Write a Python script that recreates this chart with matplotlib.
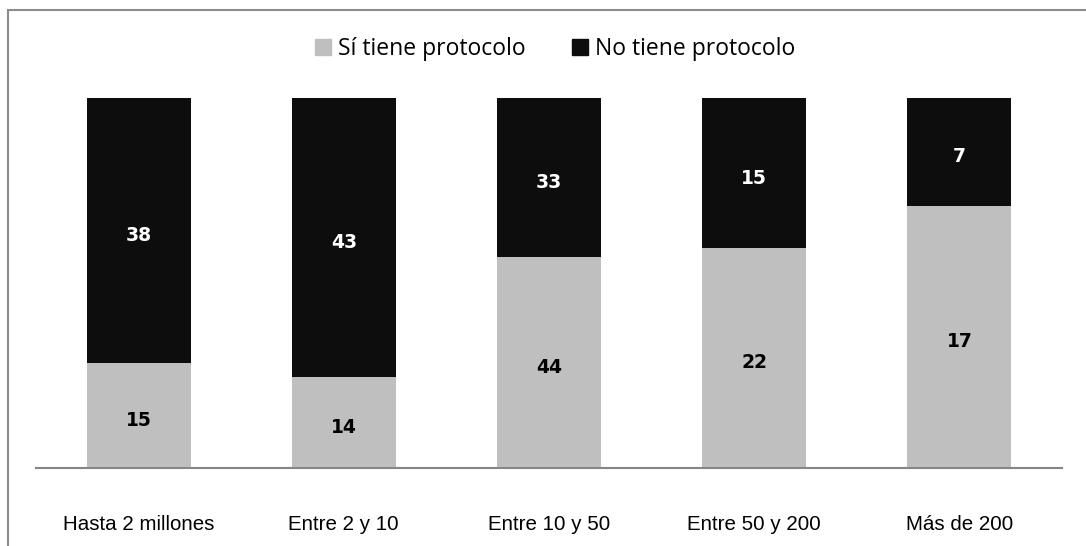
import matplotlib.pyplot as plt
from matplotlib.patches import Rectangle, Patch
import matplotlib.transforms as mtransforms
import numpy as np

# categorias y valores
categorias = ['Hasta 2 millones', 'Entre 2 y 10', 'Entre 10 y 50', 'Entre 50 y 200', 'Más de 200']
si_tiene = [15, 14, 44, 22, 17]
no_tiene = [38, 43, 33, 15, 7]

si = np.array(si_tiene, dtype=float)
no = np.array(no_tiene, dtype=float)
total = si + no
si_pct = si / total
no_pct = no / total

gris = '#bfbfbf'
negro = '#0d0d0d'

fig = plt.figure(figsize=(10.86, 5.46), dpi=100)
ax = fig.add_axes([36 / 1086, 78 / 546, 1026 / 1086, 370 / 546])

x = np.arange(len(categorias))
ax.bar(x, si_pct, width=0.507, color=gris)
ax.bar(x, no_pct, width=0.507, bottom=si_pct, color=negro)

# etiquetas un poco por debajo del centro, como en el original
desplaz = mtransforms.offset_copy(ax.transData, fig=fig, x=0, y=-5, units='dots')
for i in range(len(x)):
    ax.text(x[i], si_pct[i] / 2, str(si_tiene[i]), ha='center', va='center',
            fontsize=13.5, fontweight='bold', color='black', family='DejaVu Sans',
            transform=desplaz)
    ax.text(x[i], si_pct[i] + no_pct[i] / 2, str(no_tiene[i]), ha='center', va='center',
            fontsize=13.5, fontweight='bold', color='white', family='DejaVu Sans',
            transform=desplaz)

ax.set_xlim(-0.5, len(x) - 0.5)
ax.set_ylim(0, 1)
ax.set_yticks([])
ax.set_xticks(x)
ax.set_xticklabels(categorias, fontsize=14.8, family='Liberation Sans')
ax.tick_params(axis='x', length=0, pad=34)
for s in ['top', 'right', 'left']:
    ax.spines[s].set_visible(False)
ax.spines['bottom'].set_color('#868686')
ax.spines['bottom'].set_linewidth(1.5)

# leyenda
handles = [Patch(color=gris, label='Sí tiene protocolo'),
           Patch(color=negro, label='No tiene protocolo')]
fig.legend(handles=handles, loc='center', bbox_to_anchor=(555 / 1086, 1 - 49 / 546),
           ncol=2, frameon=False, prop={'family': 'Open Sans', 'size': 16.5},
           handlelength=0.7, handleheight=0.7, handletextpad=0.3, columnspacing=2.0)

# marco exterior
fig.patches.append(Rectangle((8 / 1086, -0.1), 1.2, 1 - 10 / 546 + 0.1,
                             transform=fig.transFigure, fill=False,
                             edgecolor='#8c8c8c', linewidth=1.5))

fig.savefig('out.png', dpi=100)
